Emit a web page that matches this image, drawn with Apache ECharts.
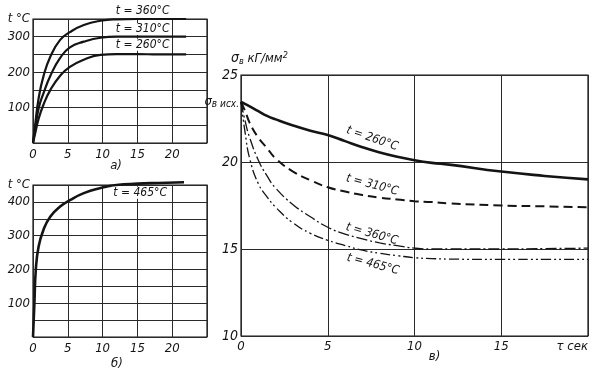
<!DOCTYPE html>
<html><head><meta charset="utf-8">
<script src="https://cdn.jsdelivr.net/npm/echarts@6/dist/echarts.min.js"></script>
<style>html,body{margin:0;padding:0;background:#fff}#c{width:592px;height:370px}</style>
</head><body><div id="c"></div>
<script>
// ---- data ----
// panel а): t °C vs τ sec
const tauA = [0, 0.3, 0.8, 1.5, 2.5, 3.9, 5.3, 7.3, 9.7, 12, 15, 18, 22];
const a360 = [0, 50, 125, 188, 244, 291, 313, 333, 345, 349, 350, 350, 350];
const a310 = [0, 38, 97, 140, 190, 240, 270, 286, 297, 300, 300, 300, 300];
const a260 = [0, 26, 68, 108, 150, 190, 215, 235, 249, 251, 251, 250, 250];
// panel б): t = 465 °C
const tauB = [0, 0.2, 0.4, 0.8, 1.5, 2.5, 3.9, 5.3, 7.3, 9.7, 12, 15, 18, 21.7];
const b465 = [0, 99, 198, 267, 317, 357, 386, 405, 426, 441, 450, 454, 456, 458];
// panel в): σв кГ/мм2 vs τ sec
const tauC = [0, 0.25, 0.5, 1, 1.5, 2, 3, 4, 5, 6, 7, 8, 9, 10, 11, 12, 15, 17.5, 20];
const c260 = [23.45, 23.33, 23.2, 22.92, 22.65, 22.45, 22.1, 21.8, 21.55, 21.2, 20.85, 20.55, 20.3, 20.1, 19.95, 19.85, 19.45, 19.2, 19.0];
const c310 = [23.45, 22.9, 22.25, 21.4, 20.8, 20.2, 19.45, 18.95, 18.55, 18.3, 18.1, 17.95, 17.85, 17.75, 17.7, 17.62, 17.5, 17.45, 17.4];
const c360 = [23.45, 22.3, 21.4, 20.1, 19.2, 18.5, 17.55, 16.85, 16.25, 15.86, 15.58, 15.35, 15.19, 15.05, 15.0, 15.0, 15.0, 15.02, 15.05];
const c465 = [23.45, 21.6, 20.2, 18.75, 18.0, 17.4, 16.5, 15.9, 15.5, 15.2, 14.93, 14.75, 14.62, 14.5, 14.45, 14.42, 14.4, 14.4, 14.4];
const sigmaStart = 23.45;
// tick labels
const xLabelsAB = [0, 5, 10, 15, 20];
const yLabelsA = [100, 200, 300];
const yLabelsB = [100, 200, 300, 400];
const xLabelsC = [0, 5, 10, 15];
const yLabelsC = [10, 15, 20, 25];
const xUnit = 'τ сек';
const tUnit = 't °C';

const F = "'Liberation Sans Narrow','DejaVu Sans Condensed','Liberation Sans',sans-serif";
const INK = '#141414';
const GRID = '#2a2a2a';
const pairs = (xs, ys) => xs.map((x, i) => [x, ys[i]]);
const txt = (extra) => Object.assign({color: INK, fontFamily: F, fontStyle: 'italic', fontSize: 13}, extra || {});

function xAxis(gi, max, labels, name, nameShift, margin, nameGap) {
  return {
    gridIndex: gi, type: 'value', min: 0, max: max, interval: 5,
    axisLine: {show: false}, axisTick: {show: false, interval: 0},
    splitLine: {show: true, interval: 0, lineStyle: {color: GRID, width: 1}},
    axisLabel: txt({margin: margin, interval: 0, alignMaxLabel: 'right',
      formatter: v => v === max ? xUnit : (labels.includes(v) ? String(v) : '')}),
    name: name, nameLocation: 'middle', nameGap: nameGap, nameMoveOverlap: false,
    nameTextStyle: txt({fontSize: 13, verticalAlign: 'top', padding: [0, 0, 0, nameShift]})
  };
}
function yAxisT(gi, max, labels) {
  return {
    gridIndex: gi, type: 'value', min: 0, max: max, interval: 50,
    axisLine: {show: false}, axisTick: {show: false, interval: 0},
    splitLine: {show: true, interval: 0, lineStyle: {color: GRID, width: 1}},
    axisLabel: txt({margin: 3, interval: 0, formatter: v => v === max ? tUnit : (labels.includes(v) ? String(v) : '')})
  };
}
function lab(text, x, y, rot, bg, dy) {
  return {coord: [x, y], symbol: 'circle', symbolSize: 0,
    label: {show: true, position: 'inside', formatter: text, rotate: rot, offset: [0, dy || 0],
      color: INK, fontFamily: F, fontStyle: 'italic', fontSize: 12,
      backgroundColor: bg ? '#fff' : 'transparent', padding: bg ? [0, 2] : 0}};
}
function line(gi, xs, ys, width, type, marks) {
  return {type: 'line', xAxisIndex: gi, yAxisIndex: gi, data: pairs(xs, ys),
    showSymbol: false, smooth: 0.5, clip: false,
    lineStyle: {color: INK, width: width, type: type},
    markPoint: marks ? {silent: true, data: marks, animation: false} : undefined};
}
const gridBase = {show: true, borderColor: INK, borderWidth: 1.2, backgroundColor: 'transparent',
  containLabel: false, outerBoundsMode: 'none'};

const chart = echarts.init(document.getElementById('c'), null, {renderer: 'canvas'});
chart.setOption({
  animation: false,
  backgroundColor: '#fff',
  grid: [
    Object.assign({left: 33, top: 19, width: 174, height: 124}, gridBase),
    Object.assign({left: 33, top: 185, width: 174, height: 152}, gridBase),
    Object.assign({left: 241, top: 75, width: 347, height: 261}, gridBase)
  ],
  xAxis: [
    xAxis(0, 25, xLabelsAB, 'а)', -8, 5, 16),
    xAxis(1, 25, xLabelsAB, 'б)', -6, 5, 20),
    xAxis(2, 20, xLabelsC, 'в)', 40, 4, 14)
  ],
  yAxis: [
    yAxisT(0, 350, yLabelsA),
    yAxisT(1, 450, yLabelsB),
    {
      gridIndex: 2, type: 'value', min: 10, max: 25, interval: 5,
      axisLine: {show: false}, axisTick: {show: false, interval: 0},
      splitLine: {show: true, interval: 0, lineStyle: {color: GRID, width: 1}},
      axisLabel: txt({fontSize: 14, margin: 3, interval: 0, formatter: v => yLabelsC.includes(v) ? String(v) : ''}),
      name: '{s|σ}{sub|в} кГ/мм{sup|2}', nameLocation: 'end', nameGap: 9,
      nameTextStyle: txt({align: 'left', padding: [0, 0, 0, -10],
        rich: {s: txt({fontSize: 14}), sub: txt({fontSize: 9, verticalAlign: 'bottom', padding: [6, 0, 0, 0]}),
               sup: txt({fontSize: 9, verticalAlign: 'top', padding: [0, 0, 6, 0]})}})
    }
  ],
  series: [
    line(0, tauA, a360, 2.2, 'solid', [lab('t = 360°C', 15.75, 350, 0, false, -8)]),
    line(0, tauA, a310, 2.2, 'solid', [lab('t = 310°C', 15.75, 322, 0, true)]),
    line(0, tauA, a260, 2.2, 'solid', [lab('t = 260°C', 15.75, 277, 0, true)]),
    line(1, tauB, b465, 2.6, 'solid', [lab('t = 465°C', 15.4, 427, 0, true)]),
    line(2, tauC, c260, 2.6, 'solid', [lab('t = 260°C', 7.56, 21.35, -19, false)]),
    line(2, tauC, c310, 2, [9, 5], [lab('t = 310°C', 7.56, 18.68, -15, false)]),
    line(2, tauC, c360, 1.3, [11, 3, 2, 3], [lab('t = 360°C', 7.54, 15.86, -16, false)]),
    line(2, tauC, c465, 1.3, [10, 3, 2, 3, 2, 3], [lab('t = 465°C', 7.6, 14.12, -15, false)]),
    {type: 'line', xAxisIndex: 2, yAxisIndex: 2, data: [], markPoint: {silent: true, animation: false, data: [{
      coord: [0, sigmaStart], symbol: 'circle', symbolSize: 0,
      label: {show: true, position: 'left', distance: 2, formatter: '{s|σ}{sub|в исх.}',
        rich: {s: txt({fontSize: 13}), sub: txt({fontSize: 10, verticalAlign: 'bottom', padding: [5, 0, 0, 0]})}}
    }]}}
  ]
});
</script></body></html>
